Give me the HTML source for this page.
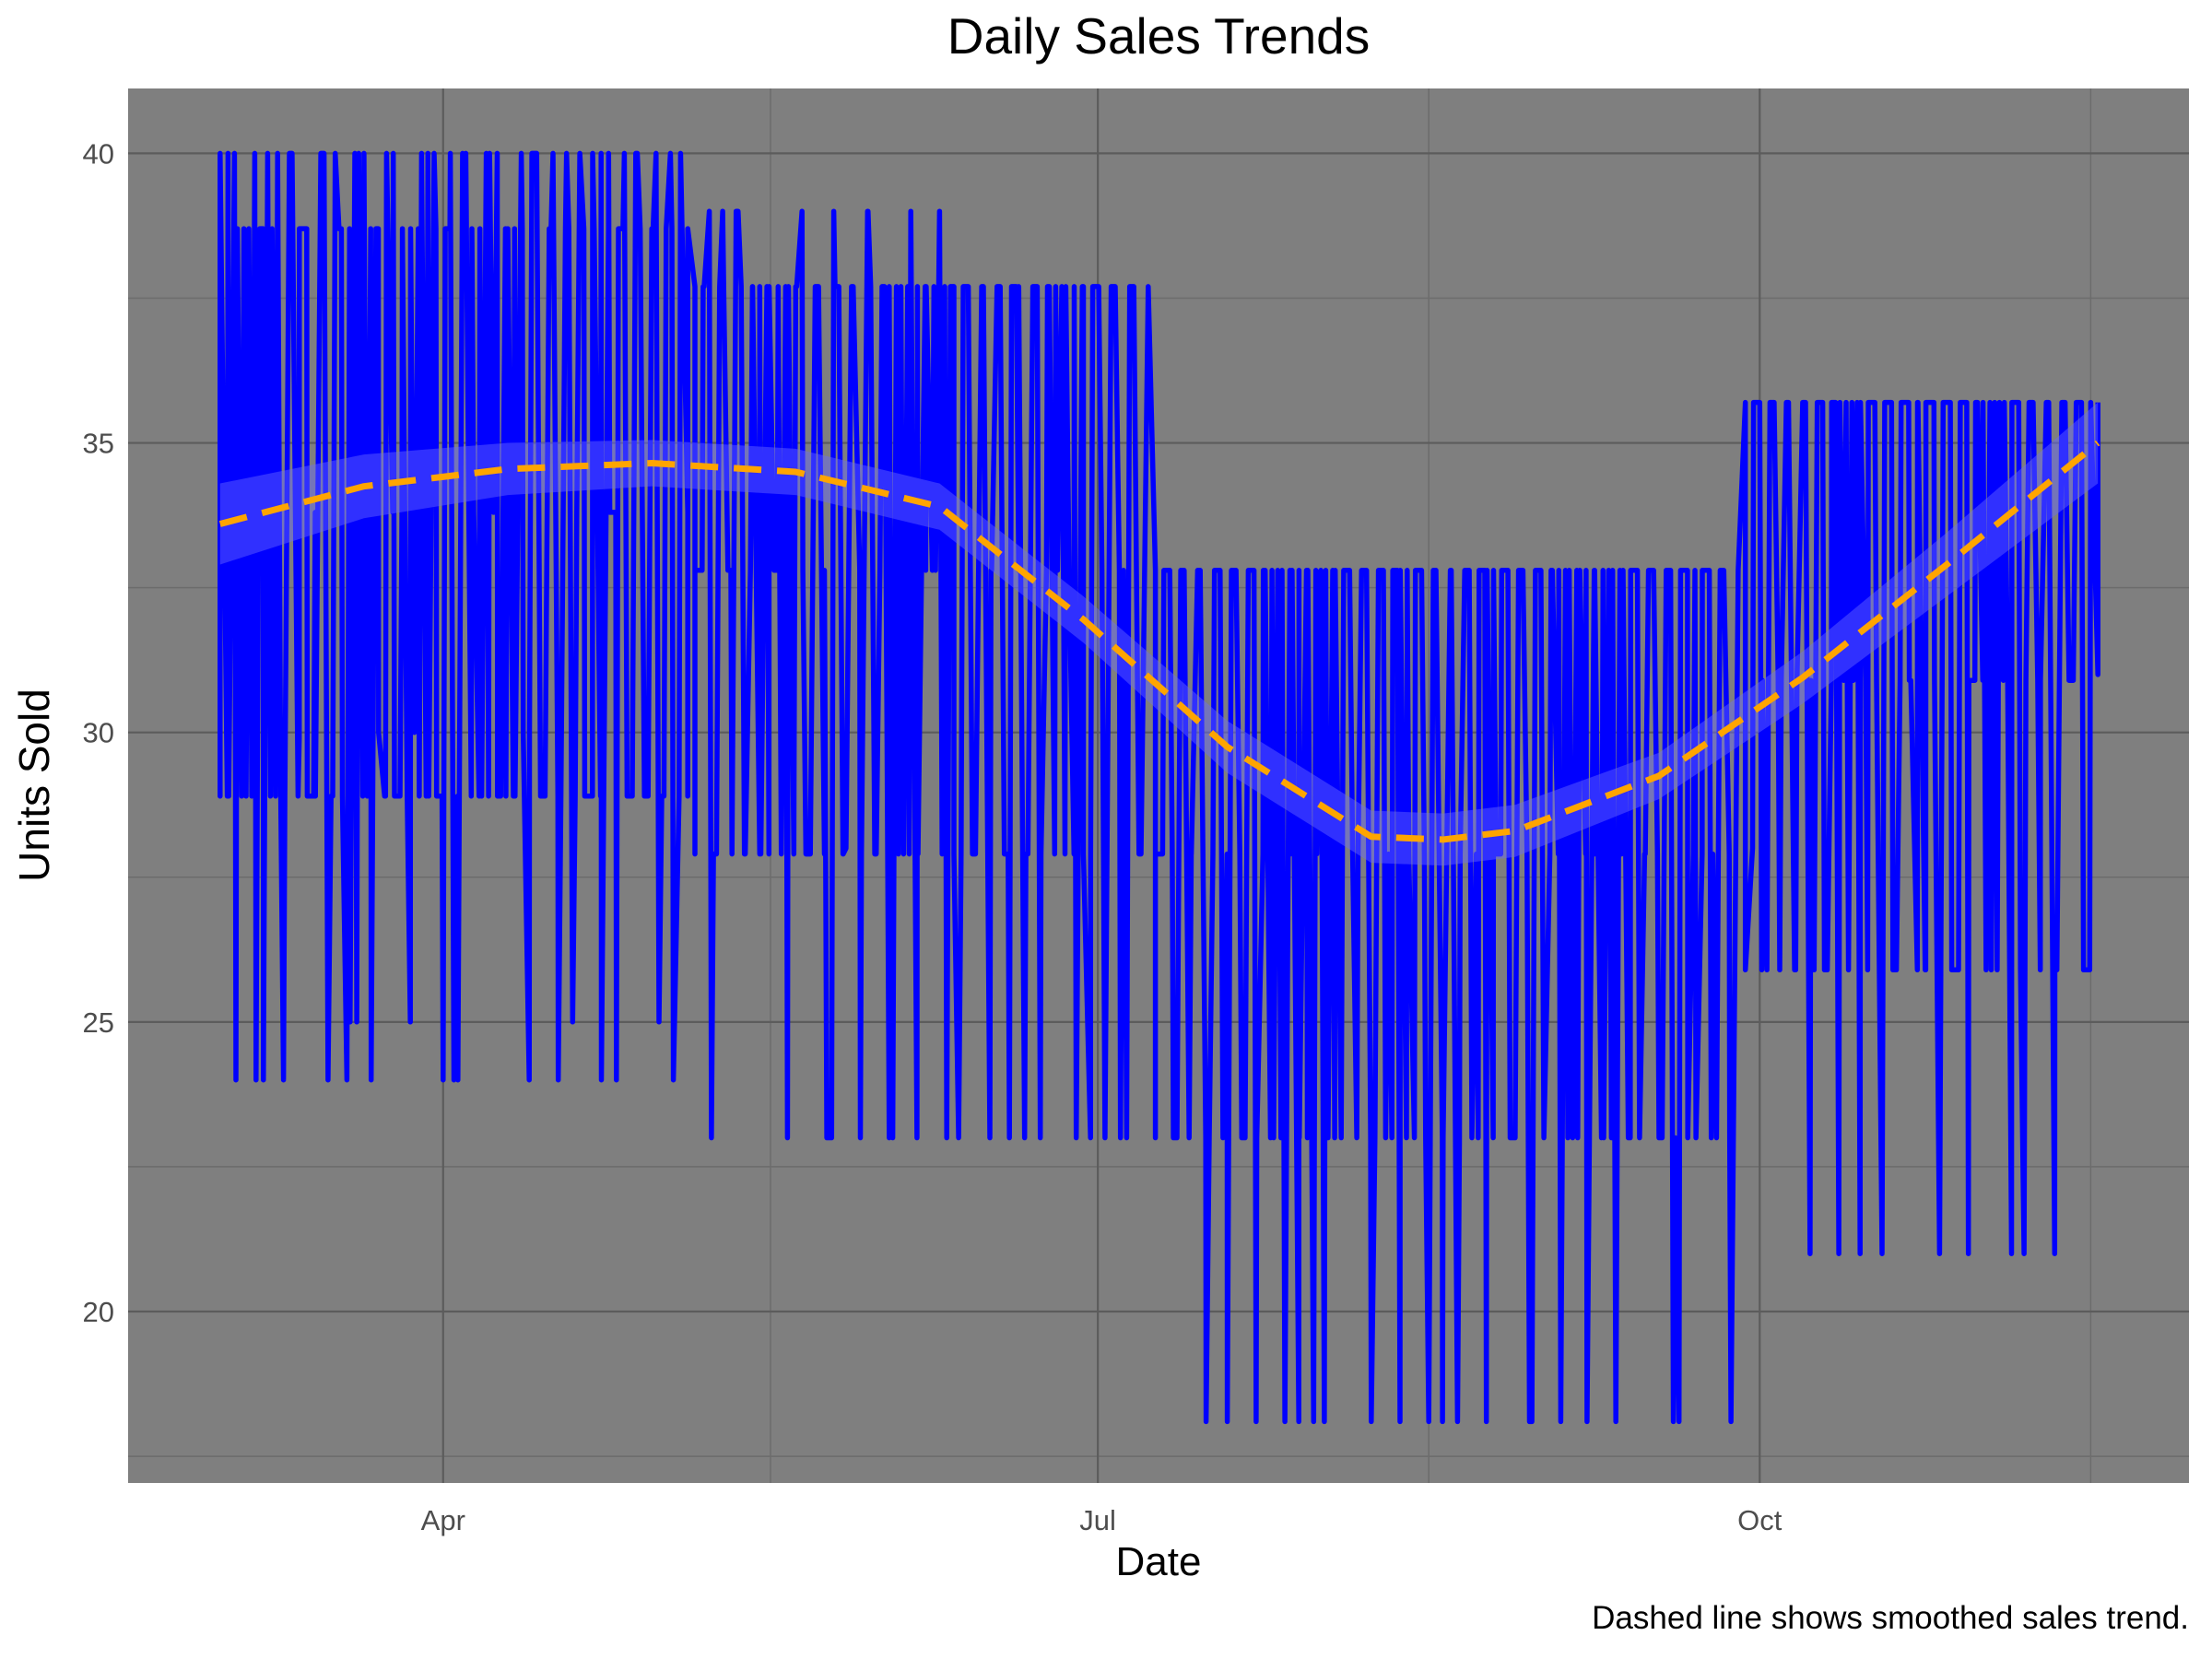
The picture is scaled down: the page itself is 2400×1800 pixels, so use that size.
<!DOCTYPE html>
<html><head><meta charset="utf-8"><style>
html,body{margin:0;padding:0;background:#fff;}
svg{display:block;font-family:"Liberation Sans",Arial,sans-serif;}
</style></head><body>
<svg id="chart" width="2400" height="1800" viewBox="0 0 2400 1800">
<rect x="0" y="0" width="2400" height="1800" fill="#fff"/>
<rect x="139" y="96" width="2236" height="1513" fill="#7f7f7f"/>
<g id="grid"></g>
<g id="series"></g>
<g id="trend"></g>
<g id="axes"></g>
<text x="1257" y="58" text-anchor="middle" font-size="55" fill="#000">Daily Sales Trends</text>
<text x="1257" y="1709" text-anchor="middle" font-size="44" fill="#000">Date</text>
<text transform="translate(53,852) rotate(-90)" text-anchor="middle" font-size="46" fill="#000">Units Sold</text>
<text x="2375" y="1767" text-anchor="end" font-size="35" fill="#000">Dashed line shows smoothed sales trend.</text>
</svg>
<script>
const segA = [38.7,28.9,40,28.9,38.7,24,38.7,28.9,40,28.9,40,29.9,38.7,28.9,40,24,40,28.9,38.7,25,40,24,38.7,28.9,33.8,28.9,28.9,30,40,28.9,38.7,24,40,28.9,38.7,38.7,28.9,40,33.8,28.9,38.7,28.9,38.7,30,40,28.9,38.7,24,38.7,25,40,28.9,38.7,24,40,33.8,38.7,28.9,40,28.9,38.7,25,38.7,24,40,33.8];
const segA2 = [28.9,40,24,38.7,28.9,38.7,40,28.9,24,40,38.7,28.9,33.8,40,28.9,38.7,24,40,28.9,38.7,30,40,28.9,38.7,25,38.7,28.9,40,28.9,38.7,24,40,33.8,28.9,40,28.9,38.7,28.9,40,24,38.7,28.9,40,28.9,38.7,33.8,28.9,40,28.9,38.7,24,40,28.9,38.7,28.9,40,28.9,38.7,33.8,28.9];
const segA3 = [40,28.9,38.7,28.9,40,24,38.7,28.9,40,28.9,38.7,28.9,40,28.9,38.7,25,40,28.9,38.7,28.9,40,33.8,38.7,28.9,40,28.9,38.7,24,40,28.9,38.7,28.9,40,28.9,38.7,30,40,28.9,38.7,28.9,40,28.9,38.7,28.9,40,33.8,38.7,28.9,40,28.9,38.7,28.9,40,28.9,38.7];
const segB = [37.7,32.8,39,27.9,37.7,32.8,39,27.9,37.7,27.9,37.7,32.8,27.9,37.7,37.7,32.8,27.9,37.7,27.9,23,37.7,28,37.7,23,39,27.9,37.7,23,37.7,27.9,39,27.9,37.7,32.8,39,23,37.7,27.9,37.7,27.9,37.7,23,37.7,27.9,37.7,32.8,27.9,37.7,23,37.7,27.9,37.7,32.8,23,37.7,27.9,37.7,23,37.7,32.8,23,37.7,27.9,37.7];
const segB2 = [27.9,37.7,23,37.7,32.8,39,27.9,37.7,27.9,37.7,32.8,37.7,27.9,39,27.9,37.7,23,37.7,27.9,37.7,32.8,39,27.9,37.7,23,37.7,27.9,37.7,32.8,37.7,27.9,37.7,23,37.7,27.9,37.7,32.8,37.7,27.9,37.7,23,37.7,27.9,37.7,32.8,37.7,27.9,37.7,23,37.7,27.9,37.7,32.8,37.7,27.9,37.7];
const segB3 = [32.8,37.7,27.9,39,27.9,37.7,32.8,37.7,27.9,37.7,23,37.7,27.9,37.7,32.8,39,27.9,37.7,27.9,37.7,32.8,37.7,27.9,37.7,23,37.7,32.8,37.7,27.9,37.7,27.9,37.7,32.8,37.7,23,37.7,27.9,37.7,32.8,37.7,27.9,37.7,27.9,37.7,32.8,37.7,23,37.7,27.9,37.7];
const segC = [32.8,27.9,32.8,23,32.8,27.9,32.8,23,27.9,32.8,18.1,32.8,23,32.8,18.1,32.8,23,32.8,18.1,32.8,23,32.8,18.1,32.8,23,32.8,27.9,32.8,23,32.8,18.1,32.8,23,32.8,18.1,32.8,23,32.8,18.1,32.8,23,32.8,18.1,32.8,23,32.8,18.1,32.8,27.9,32.8,23,32.8,18.1,32.8,23,32.8,27.9,32.8,23,32.8,18.1,32.8,23,32.8,18.1,32.8,23,32.8,27.9,32.8,23,32.8,18.1,32.8,23,32.8,27.9,32.8,23,32.8,18.1,32.8];
const segC2 = [23,32.8,27.9,32.8,23,32.8,18.1,32.8,23,32.8,27.9,32.8,23,32.8,23,32.8,27.9,32.8,23,32.8,18.1,32.8,23,32.8,27.9,32.8,23,32.8,23,32.8,27.9,32.8,23,32.8,18.1,32.8,23,32.8,27.9,32.8,23,32.8,23,32.8,27.9,32.8,23,32.8,18.1,32.8,23,32.8,27.9,32.8,23,32.8,23,32.8,27.9,32.8,23,32.8,18.1,32.8,23,32.8,27.9,32.8,23,32.8];
const segC3 = [27.9,32.8,23,32.8,27.9,32.8,23,32.8,27.9,32.8,23,32.8,27.9,32.8,23,32.8,18.1,32.8,27.9,32.8,23,32.8,27.9,32.8,23,32.8,27.9,32.8,23,32.8,27.9,32.8,23,32.8,27.9,32.8,23,32.8,27.9,32.8,23,32.8,18.1,32.8,27.9,32.8,23,32.8,27.9,32.8,23,32.8,27.9,32.8,23,32.8,27.9,32.8,23,32.8,27.9,32.8,23,32.8,27.9,32.8];
const segD = [35.7,28,35.7,25.9,35.7,30.9,35.7,25.9,35.7,21,35.7,25.9,35.7,21,35.7,30.9,35.7,25.9,35.7,21,35.7,25.9,35.7,30.9,35.7,25.9,35.7,21,35.7,25.9,35.7,21,35.7,30.9,35.7,25.9,35.7,21,35.7,30.9,35.7,25.9,35.7,21,35.7,30.9,35.7,25.9,35.7,31];
const segD2 = [30.9,35.7,25.9,35.7,30.9,35.7,25.9,35.7,30.9,35.7,25.9,35.7,30.9,35.7,21,35.7,30.9,35.7,25.9,35.7,30.9,35.7,25.9,35.7,30.9,35.7,25.9,35.7,30.9,35.7,25.9,35.7,30.9,35.7,21,35.7,30.9,35.7,25.9,35.7,30.9,35.7,25.9,35.7];
const segD3 = [25.9,35.7,30.9,35.7,25.9,35.7,30.9,35.7,25.9,35.7,30.9,35.7,25.9,35.7,30.9,35.7,25.9,35.7,30.9,35.7,25.9,35.7,30.9,35.7,25.9,35.7,30.9,35.7,25.9,35.7,30.9,35.7,25.9,35.7,30.9,35.7,25.9,35.7,30.9,35.7,25.9,35.7];
const segStartDays = [0,66,130,212];
const segEndDays = [65,129,211,261];
const trendDays = [0,20,40,60,80,100,120,140,160,170,180,200,220,240,261];
const trendVals = [33.6,34.25,34.55,34.65,34.5,33.9,31.95,29.75,28.2,28.15,28.3,29.25,30.95,32.9,35.0];
const trendHalf = [0.7,0.55,0.45,0.4,0.4,0.4,0.4,0.45,0.45,0.45,0.45,0.4,0.45,0.55,0.7];
const yTicks = [20,25,30,35,40];
const yMinor = [17.5,22.5,27.5,32.5,37.5];
const xTickDays = [31,122,214];
const xTickLabels = ["Apr","Jul","Oct"];
const xMinorDays = [76.5,168,260];

const NS="http://www.w3.org/2000/svg";
const xS = d => 238.8 + 7.806*d;
const yS = v => 1423 - (v-20)*62.83;
function mk(tag, parent){const e=document.createElementNS(NS,tag);document.getElementById(parent).appendChild(e);return e;}

yMinor.forEach(v=>{const l=mk('line','grid');


l.setAttribute('x1',139);l.setAttribute('x2',2375);l.setAttribute('y1',yS(v));l.setAttribute('y2',yS(v));l.setAttribute('stroke','#6c6c6c');l.setAttribute('stroke-width',1.5);});
xMinorDays.forEach(d=>{const l=mk('line','grid');


l.setAttribute('x1',xS(d));l.setAttribute('x2',xS(d));l.setAttribute('y1',96);l.setAttribute('y2',1609);l.setAttribute('stroke','#6c6c6c');l.setAttribute('stroke-width',1.5);});
yTicks.forEach(v=>{const l=mk('line','grid');


l.setAttribute('x1',139);l.setAttribute('x2',2375);l.setAttribute('y1',yS(v));l.setAttribute('y2',yS(v));l.setAttribute('stroke','#5c5c5c');l.setAttribute('stroke-width',2.2);
const t=mk('text','axes');


t.setAttribute('x',124);t.setAttribute('y',yS(v)+11);t.setAttribute('text-anchor','end');t.setAttribute('font-size',31);t.setAttribute('fill','#4d4d4d');t.textContent=v;});
xTickDays.forEach((d,i)=>{const l=mk('line','grid');


l.setAttribute('x1',xS(d));l.setAttribute('x2',xS(d));l.setAttribute('y1',96);l.setAttribute('y2',1609);l.setAttribute('stroke','#5c5c5c');l.setAttribute('stroke-width',2.2);
const t=mk('text','axes');


t.setAttribute('x',xS(d));t.setAttribute('y',1660);t.setAttribute('text-anchor','middle');t.setAttribute('font-size',31);t.setAttribute('fill','#4d4d4d');t.textContent=xTickLabels[i];});

const groups = [[segA,segA2,segA3],[segB,segB2,segB3],[segC,segC2,segC3],[segD,segD2,segD3]];
let pts = [];
groups.forEach((g,gi)=>{
  const s=segStartDays[gi], e=segEndDays[gi];
  g.forEach((arr,ai)=>{
    const st=(e-s)/(arr.length-1);
    arr.forEach((v,i)=>pts.push([s+i*st+ai*0.001, v]));
  });
});
pts.sort((a,b)=>a[0]-b[0]);
let dstr = pts.map((p,i)=>(i?'L':'M')+xS(p[0]).toFixed(1)+','+yS(p[1]).toFixed(1)).join(' ');
const line=mk('path','series');


line.setAttribute('d',dstr);line.setAttribute('fill','none');line.setAttribute('stroke','#0000ff');line.setAttribute('stroke-width',5.5);line.setAttribute('stroke-linejoin','round');

let up=trendDays.map((d,i)=>xS(d)+','+yS(trendVals[i]+trendHalf[i]));
let lo=trendDays.map((d,i)=>xS(d)+','+yS(trendVals[i]-trendHalf[i])).reverse();
const rib=mk('polygon','trend');


rib.setAttribute('points',up.concat(lo).join(' '));rib.setAttribute('fill','#6a6aff');rib.setAttribute('fill-opacity','0.45');
const tl=mk('polyline','trend');


tl.setAttribute('points',trendDays.map((d,i)=>xS(d)+','+yS(trendVals[i])).join(' '));
tl.setAttribute('fill','none');tl.setAttribute('stroke','#ffa500');tl.setAttribute('stroke-width',7);tl.setAttribute('stroke-dasharray','30 17');tl.setAttribute('stroke-linejoin','round');
</script>
</body></html>
